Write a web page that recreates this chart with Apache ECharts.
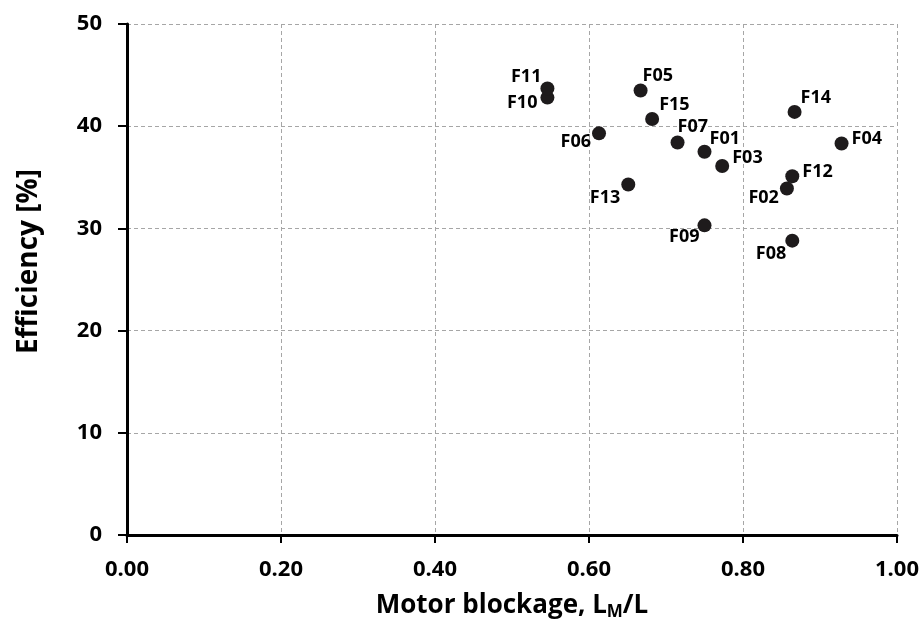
<!DOCTYPE html>
<html>
<head>
<meta charset="utf-8">
<script src="https://cdn.jsdelivr.net/npm/echarts@6/dist/echarts.min.js"></script>
<style>html,body{margin:0;padding:0;background:#fff}#c{width:924px;height:628px}</style>
</head>
<body>
<div id="c"></div>
<script>
// Data
const names = ['F01','F02','F03','F04','F05','F06','F07','F08','F09','F10','F11','F12','F13','F14','F15'];
const blockage = [0.750,0.857,0.773,0.928,0.667,0.613,0.715,0.864,0.750,0.546,0.546,0.864,0.651,0.867,0.682];
const efficiency = [37.5,33.9,36.1,38.3,43.5,39.3,38.4,28.8,30.3,42.8,43.7,35.1,34.3,41.4,40.7];
const xTicks = [0,0.2,0.4,0.6,0.8,1.0];
const yTicks = [0,10,20,30,40,50];

// Label placement (style only): [align, dx, dy]
const labelPlace = {
  F11:['right',-6,-12], F10:['right',-10,5], F05:['left',2,-15], F15:['left',7,-14],
  F14:['left',6,-14], F06:['right',-8,9], F07:['left',0,-16], F01:['left',5,-13],
  F03:['left',10,-8], F04:['left',10,-5], F12:['left',10,-4], F02:['right',-8,9],
  F13:['right',-8,13], F09:['right',-5,12], F08:['right',-6,13]
};

const FONT = '"Open Sans", "Liberation Sans", sans-serif';
const data = names.map((n,i)=>{
  const p = labelPlace[n];
  return {
    name: n,
    value: [blockage[i], efficiency[i]],
    label: {show:true, position:'inside', align:p[0], verticalAlign:'middle', offset:[p[1],p[2]]}
  };
});

const chart = echarts.init(document.getElementById('c'), null, {renderer:'canvas'});
chart.setOption({
  animation:false,
  backgroundColor:'#fff',
  grid:{left:127, right:27, top:24, bottom:93},
  xAxis:{
    type:'value', min:xTicks[0], max:xTicks[xTicks.length-1], interval:0.2,
    name:'Motor blockage, L{sub|M}/L', nameLocation:'middle', nameGap:56,
    nameTextStyle:{fontFamily:FONT, fontSize:26, fontWeight:'bold', color:'#000', lineHeight:30,
      rich:{sub:{fontFamily:FONT, fontSize:17, fontWeight:'bold', color:'#000', verticalAlign:'bottom', lineHeight:14}}},
    axisLine:{show:true, lineStyle:{color:'#000', width:3}},
    axisTick:{show:true, inside:false, length:8, lineStyle:{color:'#000', width:2}},
    axisLabel:{fontFamily:FONT, fontSize:22, fontWeight:'bold', color:'#000', margin:24,
      formatter:v=>v.toFixed(2)},
    splitLine:{show:true, lineStyle:{color:'#a6a6a6', type:[4,3], width:1}}
  },
  yAxis:{
    type:'value', min:yTicks[0], max:yTicks[yTicks.length-1], interval:10,
    name:'Efficiency [%]', nameLocation:'middle', nameGap:84,
    nameTextStyle:{fontFamily:FONT, fontSize:28, fontWeight:'bold', color:'#000', padding:[0,0,0,36]},
    axisLine:{show:true, lineStyle:{color:'#000', width:3}},
    axisTick:{show:true, inside:false, length:9, lineStyle:{color:'#000', width:2}},
    axisLabel:{fontFamily:FONT, fontSize:22, fontWeight:'bold', color:'#000', margin:25},
    splitLine:{show:true, lineStyle:{color:'#a6a6a6', type:[4,3], width:1}}
  },
  series:[{
    type:'scatter',
    symbol:'circle', symbolSize:14,
    itemStyle:{color:'#1e1b1c', opacity:1},
    label:{fontFamily:FONT, fontSize:18, fontWeight:'bold', color:'#000', formatter:p=>p.name},
    data:data
  }]
});
</script>
</body>
</html>
